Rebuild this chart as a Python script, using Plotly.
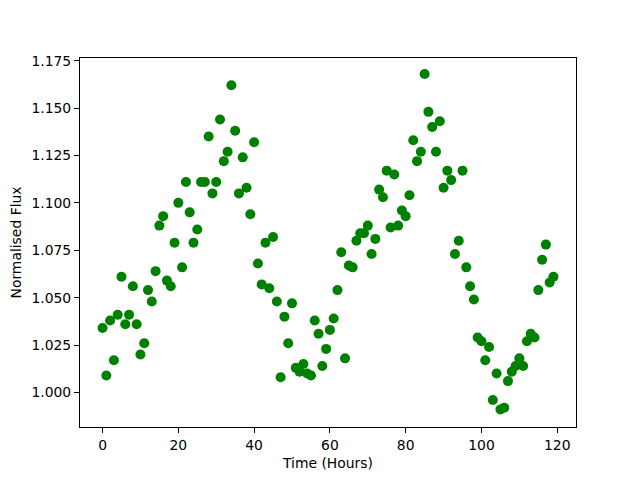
import plotly.graph_objects as go

hours = list(range(120))
flux = [
    1.034, 1.009, 1.038, 1.017, 1.041, 1.061, 1.036, 1.041, 1.056, 1.036,
    1.020, 1.026, 1.054, 1.048, 1.064, 1.088, 1.093, 1.059, 1.056, 1.079,
    1.100, 1.066, 1.111, 1.095, 1.079, 1.086, 1.111, 1.111, 1.135, 1.105,
    1.111, 1.144, 1.122, 1.127, 1.162, 1.138, 1.105, 1.124, 1.108, 1.094,
    1.132, 1.068, 1.057, 1.079, 1.055, 1.082, 1.048, 1.008, 1.040, 1.026,
    1.047, 1.013, 1.011, 1.015, 1.010, 1.009, 1.038, 1.031, 1.014, 1.023,
    1.033, 1.039, 1.054, 1.074, 1.018, 1.067, 1.066, 1.080, 1.084, 1.084,
    1.088, 1.073, 1.081, 1.107, 1.103, 1.117, 1.087, 1.115, 1.088, 1.096,
    1.093, 1.104, 1.133, 1.122, 1.127, 1.168, 1.148, 1.140, 1.127, 1.143,
    1.108, 1.117, 1.112, 1.073, 1.080, 1.117, 1.066, 1.056, 1.049, 1.029,
    1.027, 1.017, 1.024, 0.996, 1.010, 0.991, 0.992, 1.006, 1.011, 1.014,
    1.018, 1.014, 1.027, 1.031, 1.029, 1.054, 1.070, 1.078, 1.058, 1.061,
]
x_ticks = [0, 20, 40, 60, 80, 100, 120]
y_ticks = [1.000, 1.025, 1.050, 1.075, 1.100, 1.125, 1.150, 1.175]

fig = go.Figure(go.Scatter(
    x=hours, y=flux, mode="markers",
    marker=dict(color="#008000", size=10, line=dict(width=0)),
))

FONT = dict(family="DejaVu Sans", size=13.9, color="black")

axis_common = dict(
    showline=True, mirror=True, linecolor="black", linewidth=1,
    ticks="outside", ticklen=5, tickcolor="black", tickwidth=1,
    showgrid=False, zeroline=False, automargin=False,
    tickfont=FONT,
)

fig.update_layout(
    width=640, height=480,
    margin=dict(l=80, r=64, t=58, b=53),
    paper_bgcolor="white", plot_bgcolor="white",
    showlegend=False,
    font=FONT,
    xaxis=dict(range=[-5.95, 124.95], tickvals=x_ticks,
               title=dict(text="Time (Hours)", standoff=6, font=FONT), **axis_common),
    yaxis=dict(range=[0.9818, 1.1764], tickvals=y_ticks, tickformat=".3f",
               title=dict(text="Normalised Flux", standoff=6, font=FONT), **axis_common),
)

fig.write_html("out.html", config={"displayModeBar": False},
               post_script="document.body.style.margin='0';")
